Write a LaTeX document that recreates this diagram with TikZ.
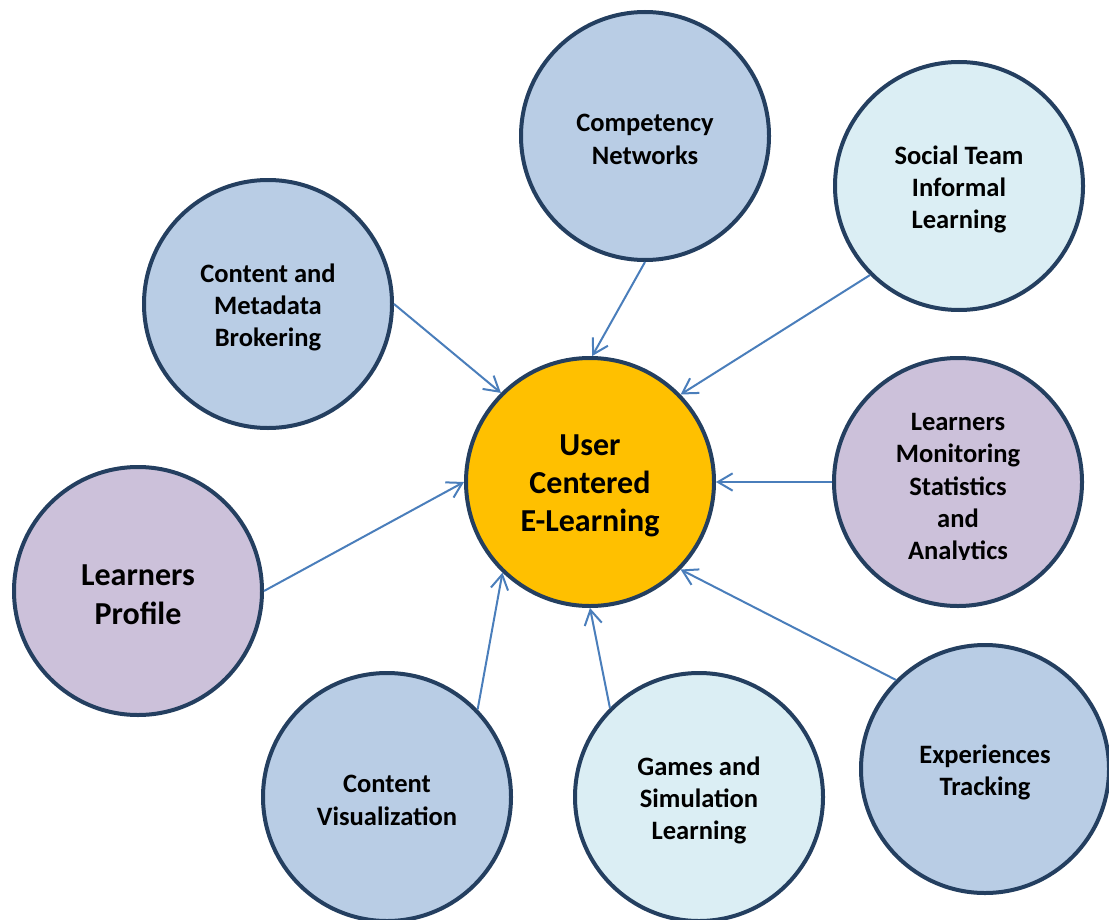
\documentclass[tikz,border=0pt]{standalone}
\usepackage{fontspec}
\setmainfont{Carlito}
\usetikzlibrary{arrows.meta}
\definecolor{ring}{HTML}{243F60}
\definecolor{linkblue}{HTML}{4A7EBB}
\definecolor{hubfill}{HTML}{FFC000}
\definecolor{bluefill}{HTML}{B9CDE5}
\definecolor{palefill}{HTML}{DBEEF4}
\definecolor{lilacfill}{HTML}{CCC1DA}
\begin{document}
\begin{tikzpicture}[x=0.75pt,y=-0.75pt,
  bubble/.style={circle,draw=ring,line width=3pt,minimum size=186pt,inner sep=0pt},
  plain/.style={inner sep=0pt,align=center,font=\fontsize{19.9}{24.3}\selectfont\bfseries},
  bigtext/.style={inner sep=0pt,align=center,font=\fontsize{24}{28.8}\selectfont\bfseries},
  caption/.style={label={[plain,yshift=-2.6pt]center:{#1}}},
  bigcaption/.style={label={[bigtext,yshift=-2.8pt]center:{#1}}},
  link/.style={draw=linkblue,line width=1.5pt,-{Straight Barb[length=11pt,width=13pt]}}]
\useasboundingbox (0,0) rectangle (1109,920);

% hub
\node[bubble,fill=hubfill,bigcaption={User\\Centered\\E-Learning}] (hub) at (590,482) {};

% surrounding topics
\node[bubble,fill=bluefill,caption={Competency\\Networks}] (comp) at (645,136) {};
\node[bubble,fill=palefill,caption={Social Team\\Informal\\Learning}] (social) at (959,186) {};
\node[bubble,fill=bluefill,caption={Content and\\Metadata\\Brokering}] (meta) at (268,304) {};
\node[bubble,fill=lilacfill] (monit) at (958,482) {};
\begin{scope}
  \clip (830,350) rectangle (1090,559);
  \node[plain] (monittext) at (958,488.5) {Learners\\Monitoring\\Statistics\\and\\Analytics};
\end{scope}
\node[bubble,fill=lilacfill,bigcaption={Learners\\Profile}] (prof) at (138,591) {};
\node[bubble,fill=bluefill,caption={Content\\Visualization}] (vis) at (387,797) {};
\node[bubble,fill=palefill,caption={Games and\\Simulation\\Learning}] (games) at (699,797) {};
\node[bubble,fill=bluefill,caption={Experiences\\Tracking}] (exp) at (985,769) {};

% connectors into the hub
\draw[link] (comp.-90)   -- (hub.89);
\draw[link] (social.225) -- (hub.44);
\draw[link] (meta.0)     -- (hub.135);
\draw[link] (monit.180)  -- (hub.0);
\draw[link] (prof.0)     -- (hub.180);
\draw[link] (vis.44)     -- (hub.226);
\draw[link] (games.135)  -- (hub.270);
\draw[link] (exp.135)    -- (hub.316);
\end{tikzpicture}
\end{document}
